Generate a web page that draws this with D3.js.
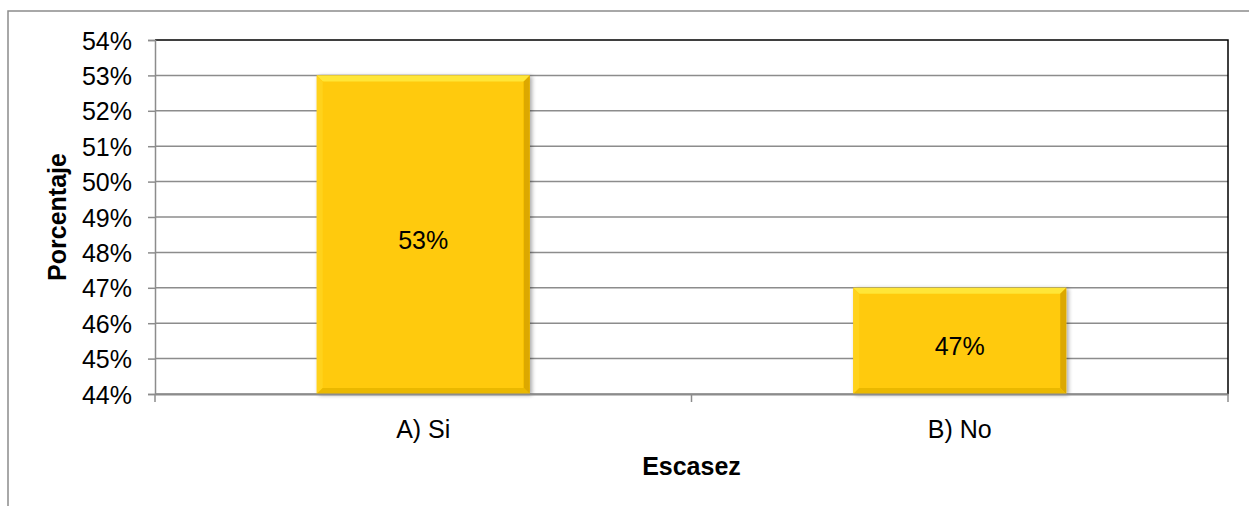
<!DOCTYPE html>
<html>
<head>
<meta charset="utf-8">
<script src="https://cdn.jsdelivr.net/npm/d3@7"></script>
<style>
  body { margin: 0; background: #fff; }
  svg { display: block; font-family: "Liberation Sans", Arial, sans-serif; }
</style>
</head>
<body>
<div id="chart"></div>
<script>
// chart data
var categories = ["A) Si", "B) No"];
var values     = [53, 47];
var yTicks     = [44, 45, 46, 47, 48, 49, 50, 51, 52, 53, 54];
var xTitle     = "Escasez";
var yTitle     = "Porcentaje";

var W = 1249, H = 506;
var m = { left: 155, top: 40, right: 1228, bottom: 394 };

var svg = d3.select("#chart").append("svg").attr("width", W).attr("height", H);

// outer chart frame (extends past right and bottom edges)
svg.append("rect")
   .attr("x", 8).attr("y", 11).attr("width", 1260).attr("height", 520)
   .attr("fill", "none").attr("stroke", "#8c8c8c").attr("stroke-width", 1.5);

var x = d3.scaleBand().domain(categories).range([m.left, m.right]).paddingInner(0).paddingOuter(0);
var y = d3.scaleLinear().domain([44, 54]).range([m.bottom, m.top]);

var defs = svg.append("defs");
var f = defs.append("filter").attr("id", "shadow").attr("x", "-10%").attr("y", "-10%").attr("width", "130%").attr("height", "130%");
f.append("feGaussianBlur").attr("in", "SourceAlpha").attr("stdDeviation", 2).attr("result", "b");
f.append("feOffset").attr("in", "b").attr("dx", 2).attr("dy", 1).attr("result", "o");
f.append("feComponentTransfer").attr("in", "o").attr("result", "s")
  .append("feFuncA").attr("type", "linear").attr("slope", 0.35);
var fm = f.append("feMerge");
fm.append("feMergeNode").attr("in", "s");
fm.append("feMergeNode").attr("in", "SourceGraphic");

// gridlines
svg.append("g").selectAll("line").data(yTicks.slice(0, -1)).enter().append("line")
   .attr("x1", m.left).attr("x2", m.right)
   .attr("y1", function(d){ return y(d); }).attr("y2", function(d){ return y(d); })
   .attr("stroke", "#8c8c8c").attr("stroke-width", 1.5);

// plot box top and right in black
svg.append("path")
   .attr("d", "M" + m.left + "," + m.top + "H" + m.right + "V" + m.bottom)
   .attr("fill", "none").attr("stroke", "#000").attr("stroke-width", 1.5);

// bars with bevel
var bw = x.bandwidth() * 0.397;
var bars = svg.append("g").selectAll("g").data(values).enter().append("g")
   .attr("filter", "url(#shadow)");

bars.each(function(d, i){
    var g = d3.select(this);
    var x0 = x(categories[i]) + (x.bandwidth() - bw) / 2, x1 = x0 + bw;
    var y0 = y(d), y1 = y(44), b = 6;
    g.append("rect").attr("x", x0).attr("y", y0).attr("width", bw).attr("height", y1 - y0).attr("fill", "#ffca08");
    g.append("polygon").attr("points", [[x0,y0],[x1,y0],[x1-b,y0+b],[x0+b,y0+b]].join(" ")).attr("fill", "#ffe638");
    g.append("polygon").attr("points", [[x0,y0],[x0+b,y0+b],[x0+b,y1-b],[x0,y1]].join(" ")).attr("fill", "#ffd21a");
    g.append("polygon").attr("points", [[x1,y0],[x1,y1],[x1-b,y1-b],[x1-b,y0+b]].join(" ")).attr("fill", "#dca800");
    g.append("polygon").attr("points", [[x0,y1],[x1,y1],[x1-b,y1-b],[x0+b,y1-b]].join(" ")).attr("fill", "#eab800");
});

// value labels
svg.append("g").selectAll("text").data(values).enter().append("text")
   .attr("x", function(d, i){ return x(categories[i]) + x.bandwidth() / 2; })
   .attr("y", function(d){ return (y(d) + y(44)) / 2 + 14; })
   .attr("text-anchor", "middle").attr("font-size", 25).attr("fill", "#000")
   .text(function(d){ return d + "%"; });

// y axis
var yAxis = d3.axisLeft(y).tickValues(yTicks).tickSize(7).tickFormat(function(d){ return d + "%"; });
var ga = svg.append("g").attr("transform", "translate(" + m.left + ",0)").call(yAxis);
ga.select(".domain").attr("stroke", "#8c8c8c").attr("stroke-width", 1.5);
ga.selectAll(".tick line").attr("stroke", "#8c8c8c").attr("stroke-width", 1.5);
ga.selectAll(".tick text").attr("font-size", 25).attr("fill", "#000")
  .attr("font-family", "Liberation Sans, Arial, sans-serif").attr("x", -23).attr("dy", "0.36em");

// x axis
var xAxis = d3.axisBottom(x).tickSize(0).tickSizeOuter(0);
var gx = svg.append("g").attr("transform", "translate(0," + m.bottom + ")").call(xAxis);
gx.select(".domain").attr("stroke", "#8c8c8c").attr("stroke-width", 2);
gx.selectAll(".tick text").attr("font-size", 25).attr("fill", "#000")
  .attr("font-family", "Liberation Sans, Arial, sans-serif").attr("y", 44).attr("dy", 0);
// category boundary ticks
var bounds = categories.map(function(c){ return x(c); }).concat([m.right]);
gx.selectAll(".bt").data(bounds).enter().append("line").attr("class", "bt")
  .attr("x1", function(d){ return d; }).attr("x2", function(d){ return d; })
  .attr("y1", 0).attr("y2", 8).attr("stroke", "#8c8c8c").attr("stroke-width", 1.5);

// axis titles
svg.append("text").attr("x", (m.left + m.right) / 2).attr("y", 475)
   .attr("text-anchor", "middle").attr("font-size", 25).attr("font-weight", "bold").text(xTitle);
svg.append("text").attr("transform", "translate(66," + ((m.top + m.bottom) / 2) + ") rotate(-90)")
   .attr("text-anchor", "middle").attr("font-size", 25).attr("font-weight", "bold").text(yTitle);
</script>
</body>
</html>
